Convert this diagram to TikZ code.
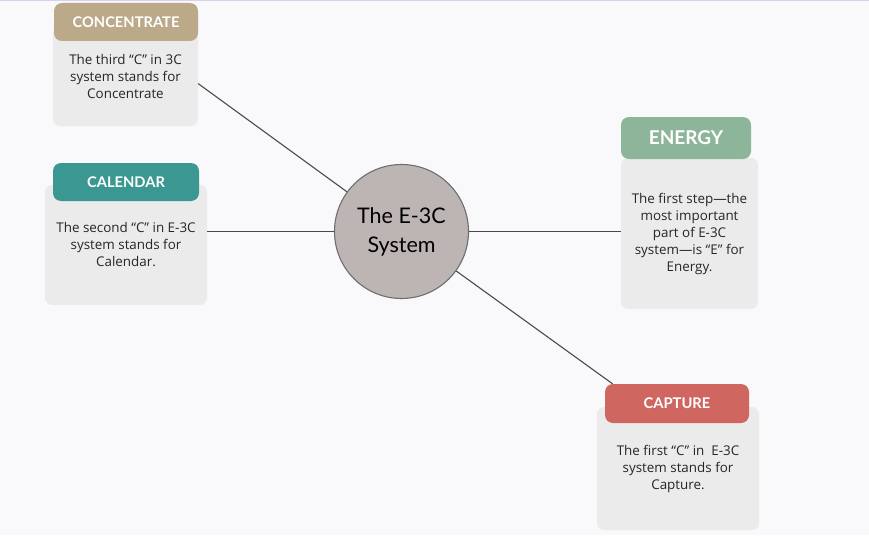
\documentclass[tikz,border=0pt]{standalone}
\usepackage{fontspec}
\setmainfont{Open Sans}
\newfontfamily\latofont{Lato}
\definecolor{bg}{HTML}{F9F9FB}
\definecolor{topline}{HTML}{D4D4EE}
\definecolor{boxgray}{HTML}{EBEBEB}
\definecolor{conccol}{HTML}{BBA98A}
\definecolor{calcol}{HTML}{3A9791}
\definecolor{encol}{HTML}{8DB59A}
\definecolor{capcol}{HTML}{CF6660}
\definecolor{circfill}{HTML}{BDB4B4}
\definecolor{circline}{HTML}{6E6E6E}
\definecolor{linkcol}{HTML}{4A4A4A}
\definecolor{txt}{HTML}{262626}
\tikzset{
  bodybox/.style={fill=boxgray, rounded corners=7pt, align=center, text=txt,
    font=\fontsize{13.4}{17}\selectfont, inner sep=0pt},
  headbox/.style={rounded corners=8pt, text=white, inner sep=0pt,
    font=\latofont\bfseries\fontsize{14.7}{17}\selectfont},
  link/.style={draw=linkcol, line width=1.1pt},
}
\begin{document}
\begin{tikzpicture}[x=1pt,y=-1pt]
\fill[bg] (0,0) rectangle (869,535);
\useasboundingbox (0,0) rectangle (869,535);
\draw[topline, line width=1.2pt] (0,0.6) -- (869,0.6);

% body boxes
\node[bodybox, minimum width=145pt, minimum height=100pt] (concb) at (125.5,76)
  {The third “C” in 3C\\system stands for\\Concentrate};
\node[bodybox, minimum width=162pt, minimum height=120pt] (calb) at (126,245)
  {The second “C” in E-3C\\system stands for\\Calendar.};
\node[bodybox, minimum width=137pt, minimum height=151pt] (enb) at (689.5,233.5)
  {The first step—the\\most important\\part of E-3C\\system—is “E” for\\Energy.};
\node[bodybox, minimum width=162pt, minimum height=123pt] (capb) at (678,468.5)
  {The first “C” in \ E-3C\\system stands for\\Capture.};

% headers
\node[headbox, fill=conccol, minimum width=144pt, minimum height=38pt] (conch) at (126,22) {CONCENTRATE};
\node[headbox, fill=calcol, minimum width=146pt, minimum height=38pt] (calh) at (126,182) {CALENDAR};
\node[headbox, fill=encol, minimum width=130pt, minimum height=42pt, font=\latofont\bfseries\fontsize{19}{22}\selectfont] (enh) at (686,138) {ENERGY};
\node[headbox, fill=capcol, minimum width=144pt, minimum height=39pt] (caph) at (677,403.5) {CAPTURE};

% centre
\node[circle, draw=circline, line width=1.1pt, fill=circfill, minimum size=134pt, inner sep=0pt,
  align=center, font=\latofont\fontsize{21.5}{29}\selectfont, text=black] (c) at (401.5,231.5)
  {The E-3C\\System};

% connectors
\draw[link] (c) -- (concb.-6);
\draw[link] (c) -- (c -| calb.east);
\draw[link] (c) -- (c -| enb.west);
\draw[link] (c) -- (caph.163);
\end{tikzpicture}
\end{document}
